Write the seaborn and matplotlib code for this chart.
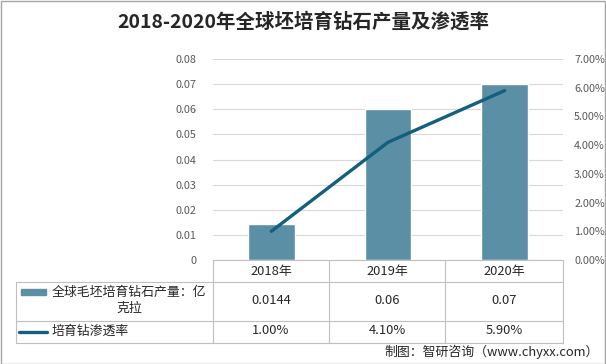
import matplotlib
matplotlib.use("Agg")
import matplotlib.pyplot as plt
import seaborn as sns
import pandas as pd
from matplotlib.lines import Line2D
from matplotlib.patches import Rectangle

years = ["2018年", "2019年", "2020年"]
output = [0.0144, 0.06, 0.07]          # 亿克拉
penetration = [1.00, 4.10, 5.90]       # %
output_labels = ["0.0144", "0.06", "0.07"]
pen_labels = ["1.00%", "4.10%", "5.90%"]
title = "2018-2020年全球坯培育钻石产量及渗透率"
bar_name = "全球毛坯培育钻石产量：亿\n克拉"
line_name = "培育钻渗透率"
source = "制图：智研咨询（www.chyxx.com）"

bar_color = "#5b8fa6"
line_color = "#125f7e"
grid_color = "#d9d9d9"
tick_color = "#595959"

sns.set_theme(style="white")
plt.rcParams["font.family"] = ["Noto Sans CJK SC", "DejaVu Sans"]

W, H = 606, 364
fig = plt.figure(figsize=(W / 100, H / 100), dpi=100)


def fx(x):
    return x / W


def fy(y):
    return 1 - y / H


# plot area in pixels
L, R, T, B = 213, 563, 59, 260
ax = fig.add_axes([fx(L), fy(B), fx(R) - fx(L), fy(T) - fy(B)])

df = pd.DataFrame({"year": years, "output": output, "pen": penetration})
sns.barplot(data=df, x="year", y="output", color=bar_color, width=0.4,
            saturation=1, ax=ax)
ax.set_xlim(-0.5, 2.5)
ax.set_ylim(0, 0.08)
ax.set_yticks([i / 100 for i in range(9)])
ax.set_yticklabels(["0"] + [f"{i / 100:.2f}" for i in range(1, 9)])
ax.tick_params(axis="y", length=0, pad=12, labelsize=7.8, labelcolor=tick_color)
ax.set_xticks([])
ax.set_xlabel("")
ax.set_ylabel("")
ax.grid(axis="y", color=grid_color, linewidth=0.8)
ax.set_axisbelow(True)
for s in ax.spines.values():
    s.set_visible(False)

ax2 = ax.twinx()
sns.lineplot(x=[0, 1, 2], y=penetration, color=line_color, linewidth=2.4, ax=ax2)
ax2.set_ylim(0, 7)
ax2.set_yticks(range(8))
ax2.set_yticklabels([f"{v:.2f}%" for v in range(8)])
ax2.tick_params(axis="y", length=0, pad=8, labelsize=7.8, labelcolor=tick_color)
ax2.set_xlim(-0.5, 2.5)
for s in ax2.spines.values():
    s.set_visible(False)

# title
fig.text(fx(303), fy(22), title, ha="center", va="center", fontsize=14,
         fontweight="bold", color="#262626")

# data table
tc = "#bfbfbf"
col_x = [213, 329, 445, 563]
row_y = [260, 282, 321, 343]
left_x = 16
lines = []
for y in row_y:
    x0 = col_x[0] if y == row_y[0] else left_x
    lines.append(Line2D([fx(x0), fx(col_x[-1])], [fy(y), fy(y)]))
for x in col_x:
    lines.append(Line2D([fx(x), fx(x)], [fy(row_y[0]), fy(row_y[-1])]))
lines.append(Line2D([fx(left_x), fx(left_x)], [fy(row_y[1]), fy(row_y[-1])]))
for ln in lines:
    ln.set_color(tc)
    ln.set_linewidth(0.8)
    fig.add_artist(ln)

fs = 9.3
centers = [(col_x[i] + col_x[i + 1]) / 2 for i in range(3)]
for c, yr, v1, v2 in zip(centers, years, output_labels, pen_labels):
    fig.text(fx(c), fy(271), yr, ha="center", va="center", fontsize=fs, color="#262626")
    fig.text(fx(c), fy(300), v1, ha="center", va="center", fontsize=fs, color="#262626")
    fig.text(fx(c), fy(331), v2, ha="center", va="center", fontsize=fs, color="#262626")

# legend keys
fig.add_artist(Rectangle((fx(21), fy(295)), fx(25), 6 / H, color=bar_color))
fig.text(fx(129), fy(300), bar_name, ha="center", va="center", fontsize=fs,
         color="#262626", linespacing=1.3)
fig.add_artist(Line2D([fx(19), fx(47)], [fy(332), fy(332)], color=line_color, linewidth=2.4))
fig.text(fx(51), fy(331), line_name, ha="left", va="center", fontsize=fs, color="#262626")

# source
fig.text(fx(599), fy(352), source, ha="right", va="center", fontsize=9.3, color="#262626")

# outer border
fig.add_artist(Rectangle((0.5 / W, 0.5 / H), 1 - 1.5 / W, 1 - 1.5 / H, fill=False,
                         edgecolor="#a6a6a6", linewidth=1))

fig.savefig("out.png", dpi=100)
